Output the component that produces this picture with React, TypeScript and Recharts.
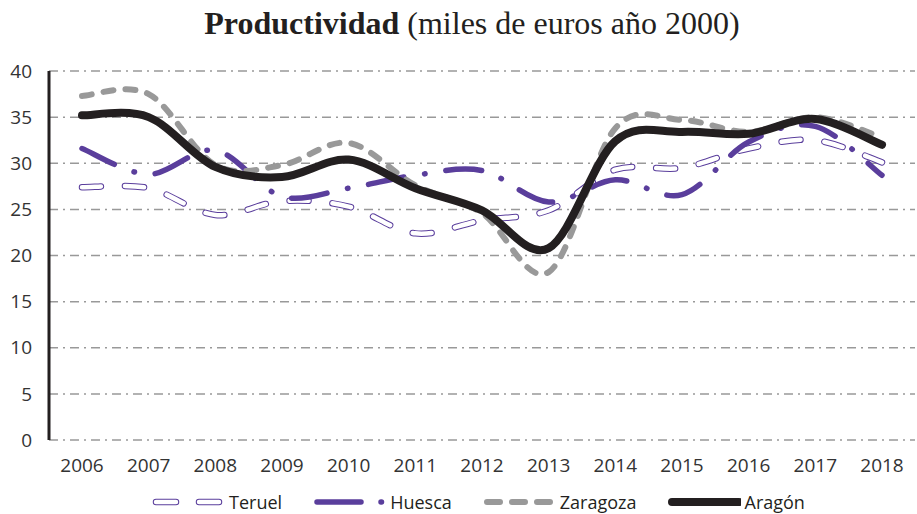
import { CartesianGrid, Line, LineChart, XAxis, YAxis } from 'recharts'

const years = ['2006', '2007', '2008', '2009', '2010', '2011', '2012', '2013', '2014', '2015', '2016', '2017', '2018']
const teruel = [27.4, 27.3, 24.4, 25.9, 25.3, 22.4, 23.8, 24.9, 29.3, 29.5, 31.6, 32.5, 30.1]
const huesca = [31.6, 28.8, 31.4, 26.4, 27.3, 28.7, 29.2, 25.8, 28.2, 26.6, 32.3, 34.0, 28.7]
const zaragoza = [37.3, 37.5, 29.8, 29.8, 32.2, 27.6, 24.6, 18.2, 33.8, 34.7, 33.4, 35.0, 32.8]
const aragon = [35.2, 35.0, 29.6, 28.5, 30.4, 27.3, 24.9, 20.8, 32.4, 33.4, 33.2, 34.8, 32.0]
const yTicks = [0, 5, 10, 15, 20, 25, 30, 35, 40]
const bandEdges = [0, 1, 2, 3, 4, 5, 6, 7, 8, 9, 10, 11, 12, 13]

const data = years.map((year, i) => ({ year, teruel: teruel[i], huesca: huesca[i], zaragoza: zaragoza[i], aragon: aragon[i] }))

const purple = '#5a3e9c'
const grey = '#999999'
const ink = '#231f20'
const font = "'Open Sans', sans-serif"

// Excel-style smoothing: Catmull-Rom segments written as cubic beziers
const smooth = (context: any) => {
  let pts: number[][] = []
  return {
    areaStart() {},
    areaEnd() {},
    lineStart() { pts = [] },
    point(x: number, y: number) { pts.push([+x, +y]) },
    lineEnd() {
      if (!pts.length) return
      context.moveTo(pts[0][0], pts[0][1])
      for (let i = 0; i < pts.length - 1; i++) {
        const p0 = pts[i - 1] || pts[i]
        const p1 = pts[i]
        const p2 = pts[i + 1]
        const p3 = pts[i + 2] || p2
        context.bezierCurveTo(
          p1[0] + (p2[0] - p0[0]) / 6, p1[1] + (p2[1] - p0[1]) / 6,
          p2[0] - (p3[0] - p1[0]) / 6, p2[1] - (p3[1] - p1[1]) / 6,
          p2[0], p2[1],
        )
      }
    },
  }
}

const series = [
  { key: 'teruel', name: 'Teruel' },
  { key: 'huesca', name: 'Huesca' },
  { key: 'zaragoza', name: 'Zaragoza' },
  { key: 'aragon', name: 'Aragón' },
]

function LegendIcon({ k }: { k: string }) {
  return <svg width={74} height={14} style={{ display: 'block' }}>
    {k === 'teruel' && <>
      <line x1={5} y1={7} x2={72} y2={7} stroke={purple} strokeWidth={6.5} strokeDasharray="20 23" strokeLinecap="round" />
      <line x1={5} y1={7} x2={72} y2={7} stroke="#fff" strokeWidth={4.5} strokeDasharray="20 23" strokeLinecap="round" />
    </>}
    {k === 'huesca' && <line x1={5} y1={7} x2={72} y2={7} stroke={purple} strokeWidth={5.5} strokeDasharray="44 20 0.5 30" strokeLinecap="round" />}
    {k === 'zaragoza' && <line x1={5} y1={7} x2={72} y2={7} stroke={grey} strokeWidth={6} strokeDasharray="13 12" strokeLinecap="round" />}
    {k === 'aragon' && <line x1={5} y1={7} x2={72} y2={7} stroke={ink} strokeWidth={8} strokeLinecap="round" />}
  </svg>
}

export default function App() {
  return <div style={{ position: 'absolute', left: 0, top: 0, width: 917, height: 514, background: '#fff', overflow: 'hidden' }}>
    <div style={{ position: 'absolute', top: 5, left: 0, width: 944, textAlign: 'center', fontFamily: "'Liberation Serif', serif", fontSize: 32, color: ink, whiteSpace: 'nowrap' }}>
      <b>Productividad</b> (miles de euros año 2000)
    </div>
    <LineChart width={917} height={514} data={data} margin={{ top: 71, right: 2, left: 0, bottom: 39 }}>
      <CartesianGrid vertical={false} stroke={grey} strokeWidth={1.5} strokeDasharray="9 5 2 5" />
      <XAxis xAxisId="edges" type="number" domain={[0, 13]} ticks={bandEdges} allowDataOverflow height={0}
        tickFormatter={() => ''} axisLine={{ stroke: grey, strokeWidth: 2.5 }} tickLine={{ stroke: grey, strokeWidth: 2 }} tickSize={6} />
      <XAxis dataKey="year" padding={{ left: 33, right: 33 }} height={35} axisLine={false} tickLine={false} tickSize={0} tickMargin={19}
        interval={0} tick={{ fontSize: 19, fontFamily: font, fill: '#333' }} />
      <YAxis domain={[0, 40]} ticks={yTicks} width={49} axisLine={{ stroke: ink, strokeWidth: 3 }} tickLine={false} tickSize={0} tickMargin={17}
        tick={{ fontSize: 19, fontFamily: font, fill: '#333' }} />
      <Line dataKey="teruel" name="Teruel" type={smooth} stroke={purple} strokeWidth={6.5} strokeDasharray="19 24" strokeLinecap="round" dot={false} activeDot={false} isAnimationActive={false} />
      <Line dataKey="teruel" name="Teruel inner" type={smooth} stroke="#fff" strokeWidth={4.5} strokeDasharray="19 24" strokeLinecap="round" dot={false} activeDot={false} isAnimationActive={false} />
      <Line dataKey="huesca" name="Huesca" type={smooth} stroke={purple} strokeWidth={5.5} strokeDasharray="36 21 0.5 21" strokeLinecap="round" dot={false} activeDot={false} isAnimationActive={false} />
      <Line dataKey="zaragoza" name="Zaragoza" type={smooth} stroke={grey} strokeWidth={6} strokeDasharray="10 12" strokeLinecap="round" dot={false} activeDot={false} isAnimationActive={false} />
      <Line dataKey="aragon" name="Aragón" type={smooth} stroke={ink} strokeWidth={8} strokeLinecap="round" dot={false} activeDot={false} isAnimationActive={false} />
    </LineChart>
    <div style={{ position: 'absolute', top: 492, left: 0, width: 956, display: 'flex', justifyContent: 'center', gap: 30, fontFamily: font, fontSize: 18, lineHeight: '20px', color: ink }}>
      {series.map(s => <div key={s.key} style={{ display: 'flex', alignItems: 'center', gap: 4 }}>
        <LegendIcon k={s.key} />
        <span>{s.name}</span>
      </div>)}
    </div>
  </div>
}
